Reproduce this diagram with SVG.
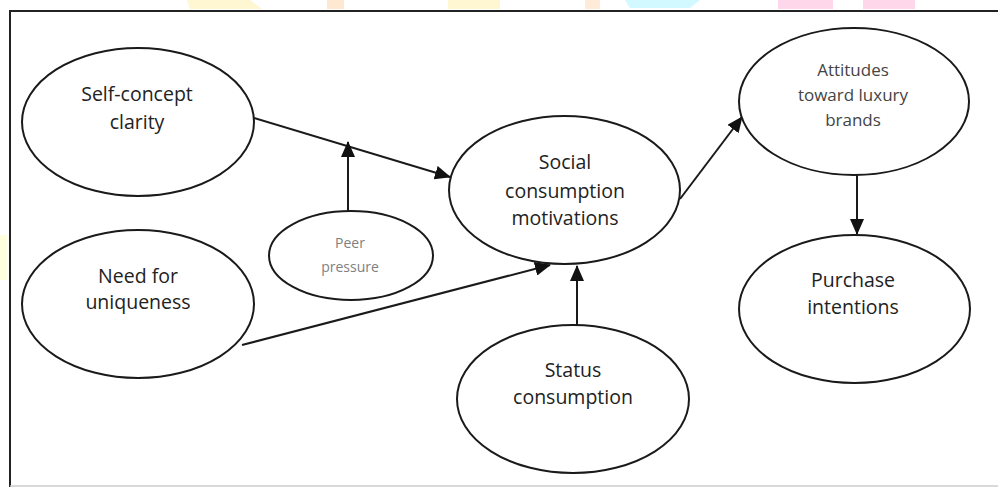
<svg xmlns="http://www.w3.org/2000/svg" width="998" height="487" viewBox="0 0 998 487">
<style>
.node{fill:#fff;stroke:#1a1a1a;stroke-width:2}
.t{font-family:"Open Sans","Liberation Sans",sans-serif;font-size:19.5px;fill:#222;text-anchor:middle}
.ts{font-family:"Open Sans","Liberation Sans",sans-serif;font-size:17px;fill:#444;text-anchor:middle}
.tp{font-family:"Open Sans","Liberation Sans",sans-serif;font-size:14px;fill:#808080;text-anchor:middle}
.edge{stroke:#1a1a1a;stroke-width:2;fill:none;marker-end:url(#ah)}
</style>
<defs>
<marker id="ah" markerUnits="userSpaceOnUse" markerWidth="16" markerHeight="14" refX="15" refY="7" orient="auto">
<path d="M0,0 L16,7 L0,14 z" fill="#111"/>
</marker>
</defs>
<rect width="998" height="487" fill="#fff"/>
<g id="watermark" opacity="0.35">
<path d="M187,0 L250,0 L262,9 L190,9 z" fill="#ffe680"/>
<rect x="327" y="0" width="17" height="9" fill="#ffc080"/>
<rect x="448" y="0" width="52" height="9" fill="#ffe680"/>
<rect x="585" y="0" width="15" height="9" fill="#ffc890"/>
<path d="M625,0 L700,0 L690,8 L630,8 z" fill="#80f0ff"/>
<rect x="778" y="0" width="55" height="9" fill="#ff90c8"/>
<rect x="863" y="0" width="52" height="9" fill="#ff90c8"/>
<rect x="0" y="235" width="7" height="45" fill="#ffffa0"/>
</g>
<g id="frame">
<path d="M10,487 L10,11 L998,11" fill="none" stroke="#222" stroke-width="2"/>
<line x1="10" y1="486" x2="998" y2="486" stroke="#ccc" stroke-width="1.5"/>
</g>
<g id="connectors">
<line class="edge" x1="254" y1="118" x2="450" y2="177"/>
<line class="edge" x1="348" y1="211" x2="348" y2="142"/>
<line class="edge" x1="242" y1="345" x2="550" y2="265"/>
<line class="edge" x1="577" y1="325" x2="577" y2="266"/>
<line class="edge" x1="680" y1="199" x2="742" y2="117"/>
<line class="edge" x1="857" y1="175" x2="857" y2="234"/>
</g>
<g id="self-concept">
<ellipse class="node" cx="138" cy="122" rx="116" ry="74"/>
<text class="t" x="137" y="101">Self-concept</text>
<text class="t" x="137" y="129">clarity</text>
</g>
<g id="uniqueness">
<ellipse class="node" cx="138" cy="304" rx="116" ry="74"/>
<text class="t" x="138" y="283">Need for</text>
<text class="t" x="138" y="309">uniqueness</text>
</g>
<g id="peer">
<ellipse class="node" cx="351" cy="255.5" rx="82" ry="44.5"/>
<text class="tp" x="350" y="248">Peer</text>
<text class="tp" x="350" y="272">pressure</text>
</g>
<g id="social">
<ellipse class="node" cx="564.5" cy="190" rx="115.5" ry="74"/>
<text class="t" x="565" y="169">Social</text>
<text class="t" x="565" y="198">consumption</text>
<text class="t" x="565" y="225">motivations</text>
</g>
<g id="status">
<ellipse class="node" cx="573" cy="399" rx="116" ry="74"/>
<text class="t" x="573" y="377">Status</text>
<text class="t" x="573" y="404">consumption</text>
</g>
<g id="attitudes">
<ellipse class="node" cx="854" cy="101.5" rx="115" ry="73.5"/>
<text class="ts" x="853" y="76">Attitudes</text>
<text class="ts" x="853" y="101">toward luxury</text>
<text class="ts" x="853" y="126">brands</text>
</g>
<g id="purchase">
<ellipse class="node" cx="854.5" cy="309" rx="115.5" ry="74"/>
<text class="t" x="853" y="287">Purchase</text>
<text class="t" x="853" y="314">intentions</text>
</g>
</svg>
